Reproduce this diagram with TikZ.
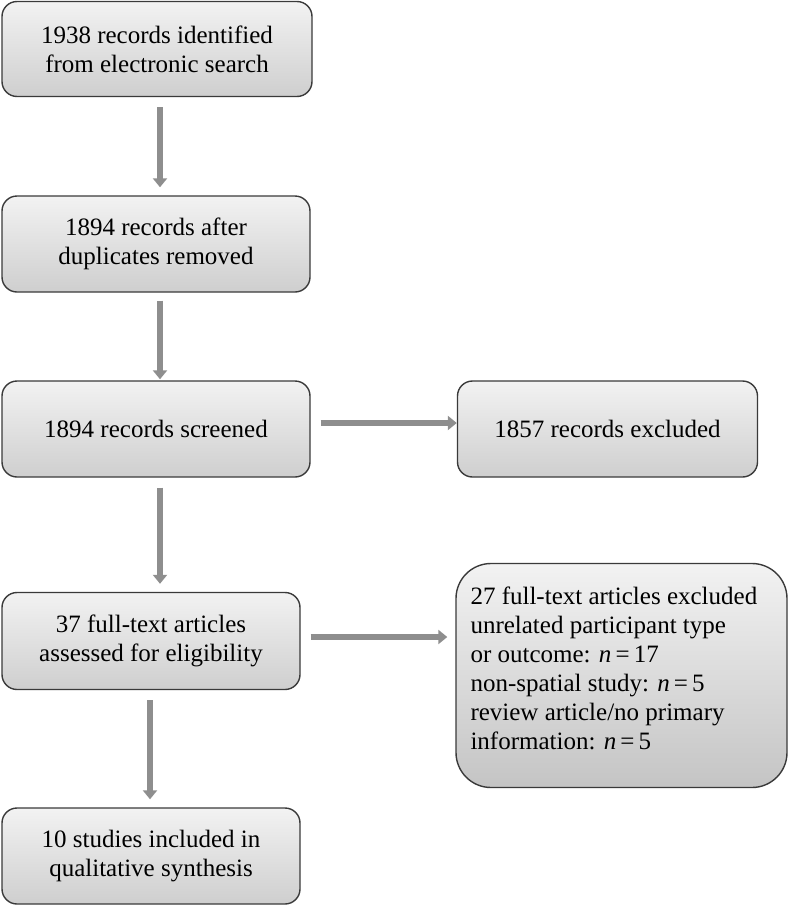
\documentclass[tikz,border=0pt]{standalone}
\usepackage{fontspec}
\setmainfont{Liberation Serif}
\usetikzlibrary{arrows.meta}
\definecolor{arrgray}{HTML}{8E8E8E}
\definecolor{boxline}{HTML}{3A3A3A}
\tikzset{
  box/.style={draw=boxline, line width=1.4pt, rounded corners=15pt,
    top color=black!5, bottom color=black!19, inner sep=0pt,
    align=center, font=\fontsize{25}{29}\selectfont},
  arr/.style={draw=arrgray, line width=6pt,
    -{Triangle[length=9pt,width=14pt]}},
  txt/.style={inner sep=0pt, align=left, font=\fontsize{25}{29}\selectfont}
}
\begin{document}
\begin{tikzpicture}[x=1pt,y=-1pt]
\useasboundingbox (0,0) rectangle (788,905);
\node[box, minimum width=310pt, minimum height=95pt] (b1) at (157,49) {1938 records identified\\from electronic search};
\node[box, minimum width=308pt, minimum height=96pt] (b2) at (156,244) {1894 records after\\duplicates removed};
\node[box, minimum width=308pt, minimum height=96pt] (b3) at (156,429) {1894 records screened};
\node[box, minimum width=300pt, minimum height=96pt] (b4) at (607.5,429) {1857 records excluded};
\node[box, minimum width=298pt, minimum height=97pt] (b5) at (151,641) {37 full-text articles\\assessed for eligibility};
\node[box, rounded corners=35pt, minimum width=331pt, minimum height=224pt, bottom color=black!23] (b6) at (621.5,675.5) {};
\node[txt, anchor=north west] (t6) at ([xshift=15pt,yshift=-24pt]b6.north west)
  {27 full-text articles excluded\\unrelated participant type\\or outcome: \textit{n}\,=\,17\\non-spatial study: \textit{n}\,=\,5\\review article/no primary\\information: \textit{n}\,=\,5};
\node[box, minimum width=298pt, minimum height=96pt] (b7) at (151,856) {10 studies included in\\qualitative synthesis};
\draw[arr, shorten <=10pt, shorten >=8pt] ([xshift=3pt]b1.south) -- ([xshift=4pt]b2.north);
\draw[arr, shorten <=8pt, shorten >=1pt] ([xshift=4pt]b2.south) -- ([xshift=4pt]b3.north);
\draw[arr, shorten <=10pt, shorten >=8pt] ([xshift=4pt]b3.south) -- ([xshift=9pt]b5.north);
\draw[arr, shorten <=10pt, shorten >=8pt] ([xshift=-1pt]b5.south) -- ([xshift=-1pt]b7.north);
\draw[arr, shorten <=10pt, shorten >=0pt] ([yshift=6pt]b3.east) -- ([yshift=6pt]b4.west);
\draw[arr, shorten <=10pt, shorten >=8pt] ([yshift=4pt]b5.east) -- ([yshift=4pt]b5.east -| b6.west);
\end{tikzpicture}
\end{document}
